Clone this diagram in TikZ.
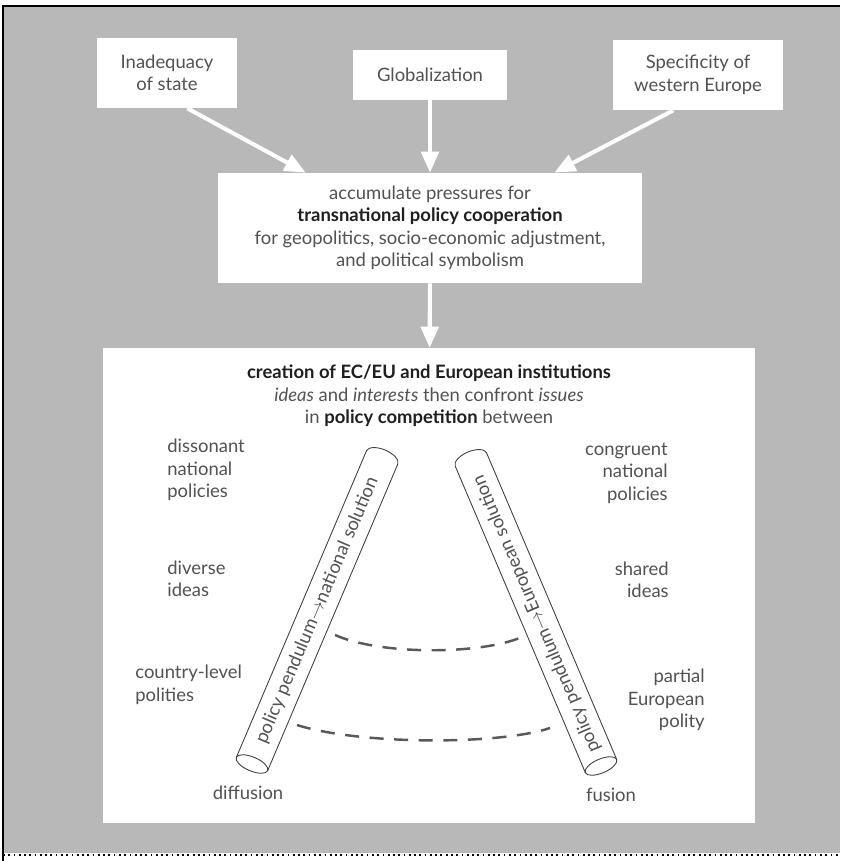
\documentclass[tikz,border=0pt]{standalone}
\usepackage{fontspec}
\setmainfont{Lato}
\usetikzlibrary{arrows.meta}
\definecolor{paper}{gray}{0.72}
\definecolor{ink}{gray}{0.32}
\newcommand\heavy[1]{{\color{black!88}\bfseries #1}}
\tikzset{
  box/.style={fill=white, inner sep=0pt, align=center, text=ink},
  txt/.style={text=ink, inner sep=0pt},
  push/.style={draw=white, line width=2.3pt, -{Triangle[length=12pt,width=10pt]}},
  tube/.style={draw=black!75, line width=0.5pt, fill=white},
  swing/.style={draw=black!65, line width=1.4pt, dash pattern=on 8pt off 6pt},
}
\begin{document}
\begin{tikzpicture}[x=0.02cm, y=0.02cm, font=\fontsize{10.5}{12.8}\selectfont]
  \useasboundingbox (0,0) rectangle (840,-861);
  \fill[white] (0,0) rectangle (840,-861);
  \fill[paper] (3,-6) rectangle (840,-853);
  \draw[line width=1pt] (3,-861) -- (3,-6) -- (840,-6);
  \draw[dotted, line width=1pt] (3,-855) -- (840,-855);

  \node[box, minimum width=2.8cm, minimum height=1.4cm] (1) at (167,-73) {Inadequacy\\of state};
  \node[box, minimum width=3.08cm, minimum height=1cm] (2) at (430,-75) {Globalization};
  \node[box, minimum width=3.4cm, minimum height=1.4cm] (3) at (698,-75) {Specificity of\\western Europe};
  \node[box, minimum width=8.48cm, minimum height=2.2cm] (4) at (430,-228)
    {accumulate pressures for\\\heavy{transnational policy cooperation}\\for geopolitics, socio-economic adjustment,\\and political symbolism};
  \node[box, minimum width=13.04cm, minimum height=9.5cm] (5) at (429,-585.5) {};

  \draw[push] (1.-60) -- (4.156);
  \draw[push] (2) -- (4);
  \draw[push] (3.-125) -- (4.24);
  \draw[push] (4) -- (5);

  \node[txt, align=center] (6) at (429,-396)
    {\heavy{creation of EC/EU and European institutions}\\\textit{ideas} and \textit{interests} then confront \textit{issues}\\in \heavy{policy competition} between};

  \node[txt, anchor=west, align=left] (dis) at (167,-470) {dissonant\\national\\policies};
  \node[txt, anchor=west, align=left] (div) at (167,-579) {diverse\\ideas};
  \node[txt, anchor=west, align=left] (cty) at (135,-685) {country-level\\polities};
  \node[txt] (dif) at (248,-793) {diffusion};
  \node[txt, anchor=east, align=right] (con) at (668,-473) {congruent\\national\\policies};
  \node[txt, anchor=east, align=right] (sha) at (669,-580) {shared\\ideas};
  \node[txt, anchor=east, align=right] (par) at (705,-700) {partial\\European\\polity};
  \node[txt] (fus) at (611,-795) {fusion};

  \draw[swing] (335,-635) .. controls (380,-655) and (480,-655) .. (522,-637);
  \draw[swing] (297,-725) .. controls (360,-745) and (500,-745) .. (550,-728);

  \begin{scope}[shift={(252,-764)}, rotate=67]
    \draw[tube] (0,17) -- (333,17) arc[start angle=90, end angle=-90, x radius=8, y radius=17] -- (0,-17);
    \draw[tube] (0,0) ellipse [x radius=7, y radius=17];
    \node[txt, transform shape] (nat) at (167,0) {policy pendulum$\rightarrow$national solution};
  \end{scope}
  \begin{scope}[shift={(601,-766)}, rotate=113]
    \draw[tube] (0,17) -- (333,17) arc[start angle=90, end angle=-90, x radius=8, y radius=17] -- (0,-17);
    \draw[tube] (0,0) ellipse [x radius=7, y radius=17];
    \node[txt, transform shape] (eur) at (165,0) {policy pendulum$\rightarrow$European solution};
  \end{scope}
\end{tikzpicture}
\end{document}
